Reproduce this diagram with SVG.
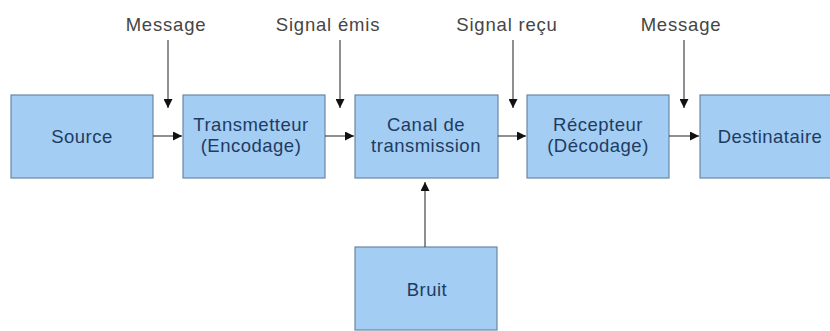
<svg xmlns="http://www.w3.org/2000/svg" width="830" height="331" viewBox="0 0 830 331">
<style>
.box{fill:#a3cdf3;stroke:#6a88a3;stroke-width:1.2}
.t{font-family:"Liberation Sans",Arial,sans-serif;font-size:18.5px;letter-spacing:0.5px;fill:#1e3c62;text-anchor:middle}
.l{font-family:"Liberation Sans",Arial,sans-serif;font-size:18.5px;letter-spacing:0.8px;fill:#454545;text-anchor:middle}
.c{stroke:#333;stroke-width:1.1;fill:none;marker-end:url(#ah)}
</style>
<defs>
<marker id="ah" viewBox="0 0 10 10" refX="10" refY="5" markerWidth="11" markerHeight="9" markerUnits="userSpaceOnUse" orient="auto">
<path d="M0,0 L10,5 L0,10 z" fill="#111"/>
</marker>
</defs>
<rect width="830" height="331" fill="#fff"/>
<g id="labels">
<text class="l" x="166" y="31">Message</text>
<text class="l" x="328" y="31">Signal émis</text>
<text class="l" x="507" y="31">Signal reçu</text>
<text class="l" x="681" y="31">Message</text>
</g>
<g id="source"><rect class="box" x="11" y="95" width="142" height="83"/><text class="t" x="82" y="143">Source</text></g>
<g id="transmetteur"><rect class="box" x="183" y="95" width="142" height="83"/><text class="t" x="251" y="131">Transmetteur</text><text class="t" x="251" y="152">(Encodage)</text></g>
<g id="canal"><rect class="box" x="355" y="95" width="143" height="83"/><text class="t" x="426" y="131">Canal de</text><text class="t" x="426" y="152">transmission</text></g>
<g id="recepteur"><rect class="box" x="527" y="95" width="142" height="83"/><text class="t" x="598" y="131">Récepteur</text><text class="t" x="598" y="152">(Décodage)</text></g>
<g id="destinataire"><rect class="box" x="700" y="95" width="142" height="83"/><text class="t" x="770" y="143">Destinataire</text></g>
<g id="bruit"><rect class="box" x="355" y="247" width="142" height="83"/><text class="t" x="427" y="296">Bruit</text></g>
<g id="connectors">
<line class="c" x1="153" y1="136" x2="182" y2="136"/>
<line class="c" x1="325" y1="136" x2="354" y2="136"/>
<line class="c" x1="498" y1="136" x2="526" y2="136"/>
<line class="c" x1="669" y1="136" x2="699" y2="136"/>
<line class="c" x1="168" y1="40" x2="168" y2="108"/>
<line class="c" x1="340" y1="40" x2="340" y2="108"/>
<line class="c" x1="513" y1="40" x2="513" y2="108"/>
<line class="c" x1="684" y1="40" x2="684" y2="108"/>
<line class="c" x1="425" y1="247" x2="425" y2="182"/>
</g>
</svg>
